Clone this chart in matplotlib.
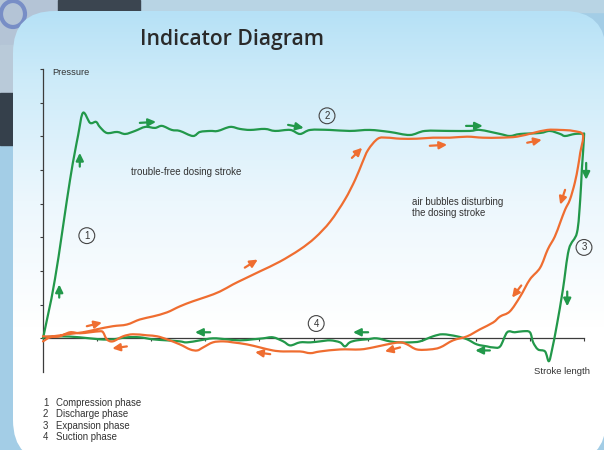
import numpy as np
import matplotlib.pyplot as plt
from matplotlib.patches import FancyBboxPatch, Rectangle, Ellipse, PathPatch
from matplotlib.path import Path
from matplotlib.colors import LinearSegmentedColormap

# stroke position (0..10) and pressure (0..8)
green_x = [0, 0.22, 0.50, 0.65, 0.74, 0.87, 0.98, 1.05, 1.18, 1.37, 1.52, 1.70, 1.89, 2.07, 2.20,
           2.38, 2.53, 2.77, 2.90, 3.09, 3.23, 3.46, 3.64, 3.83, 4.10, 4.29, 4.57, 4.75, 4.94,
           5.30, 5.67, 6.04, 6.41, 6.78, 7.06, 7.52, 7.89, 8.08, 8.45, 8.63, 8.82, 9.19, 9.37,
           9.56, 9.65, 9.83, 9.98,
           10.0, 9.96, 9.93, 9.87, 9.72, 9.61, 9.50, 9.41, 9.35,
           9.28, 9.15, 9.06, 9.00, 8.87, 8.72, 8.58, 8.45, 8.32, 8.21, 8.02, 7.84, 7.65, 7.39,
           7.21, 6.97, 6.78, 6.60, 6.41, 6.17, 5.99, 5.80, 5.67, 5.58, 5.49, 5.31, 5.12, 4.94,
           4.75, 4.57, 4.44, 4.25, 4.07, 3.88, 3.64, 3.40, 3.14, 2.90, 2.66, 2.53, 2.29, 2.03,
           1.79, 1.55, 1.29, 1.05, 0.68, 0.31, 0]
green_y = [0, 1.75, 4.71, 6.04, 6.70, 6.40, 6.43, 6.28, 6.10, 6.13, 6.07, 6.16, 6.28, 6.25, 6.31,
           6.19, 6.16, 6.01, 6.13, 6.16, 6.16, 6.28, 6.22, 6.19, 6.22, 6.16, 6.19, 6.07, 6.19,
           6.19, 6.16, 6.19, 6.13, 6.04, 6.16, 6.16, 6.16, 6.19, 6.07, 6.01, 6.07, 6.10, 6.16,
           6.07, 6.01, 6.07, 6.07,
           5.99, 5.01, 4.12, 3.14, 2.64, 1.45, 0.41, -0.33, -0.68,
           -0.39, -0.33, -0.12, 0.18, 0.21, 0.18, 0.18, -0.24, -0.27, -0.24, -0.18, -0.03, 0.06, 0.12,
           0.06, -0.09, -0.12, -0.12, -0.09, 0.00, -0.03, -0.06, -0.12, -0.24, -0.12, -0.06, -0.09, -0.12,
           -0.12, -0.21, -0.09, 0.03, 0.00, -0.03, -0.06, -0.03, 0.00, -0.06, -0.12, -0.09, -0.06, -0.03,
           0.03, 0.03, -0.03, -0.03, 0.03, 0.06, 0.03]

orange_x = [0, 0.18, 0.44, 0.74, 1.00, 1.29, 1.55, 1.79, 2.03, 2.29, 2.53, 2.77, 3.03, 3.27, 3.51,
            3.70, 4.01, 4.38, 4.75, 5.03, 5.31, 5.58, 5.77, 5.90, 6.01, 6.19, 6.36, 6.60, 6.91,
            7.21, 7.52, 7.84, 8.13, 8.45, 8.76, 9.06, 9.32, 9.56, 9.80, 9.98,
            9.93, 9.89, 9.83, 9.74, 9.65, 9.56, 9.46, 9.33, 9.19, 9.00, 8.82, 8.63, 8.45, 8.32,
            8.08, 7.84, 7.58, 7.34, 7.15, 6.91, 6.73, 6.60, 6.36, 6.10, 5.86, 5.49, 5.12, 4.94,
            4.75, 4.44, 4.25, 4.01, 3.77, 3.51, 3.33, 3.14, 2.96, 2.85, 2.72, 2.53, 2.29, 2.11,
            1.92, 1.66, 1.48, 1.29, 1.18, 1.11, 1.05, 0.87, 0.68, 0.50, 0.31, 0.13, 0]
orange_y = [0.06, 0.06, 0.12, 0.18, 0.27, 0.36, 0.41, 0.56, 0.65, 0.77, 0.95, 1.10, 1.24, 1.39, 1.60,
            1.75, 1.99, 2.28, 2.64, 2.99, 3.47, 4.12, 4.71, 5.21, 5.60, 5.93, 5.96, 5.93, 5.93,
            5.96, 5.96, 5.99, 5.96, 5.96, 5.99, 6.10, 6.19, 6.19, 6.16, 6.04,
            5.51, 5.10, 4.62, 4.12, 3.82, 3.44, 3.02, 2.64, 2.10, 1.75, 1.24, 0.80, 0.65, 0.47,
            0.27, 0.06, -0.06, -0.27, -0.33, -0.33, -0.18, -0.12, -0.18, -0.27, -0.33, -0.33, -0.39, -0.44,
            -0.39, -0.39, -0.36, -0.27, -0.18, -0.12, -0.09, -0.12, -0.27, -0.36, -0.33, -0.18, -0.03, 0.06,
            0.09, 0.12, 0.06, -0.09, -0.03, 0.18, 0.21, 0.18, 0.15, 0.18, 0.06, 0.03, -0.09]

# direction arrows: (tail x, tail y, head x, head y)
green_arrows = [(0.30, 1.21, 0.30, 1.60), (0.68, 5.10, 0.68, 5.51), (1.79, 6.40, 2.09, 6.43),
                (4.53, 6.34, 4.82, 6.25), (7.82, 6.31, 8.13, 6.31), (10.04, 5.21, 10.04, 4.71),
                (9.69, 1.39, 9.69, 0.95), (6.01, 0.18, 5.73, 0.18), (8.26, -0.36, 7.99, -0.36),
                (3.09, 0.18, 2.81, 0.18)]
orange_arrows = [(0.81, 0.36, 1.09, 0.47), (1.55, -0.24, 1.28, -0.30), (3.73, 2.10, 3.97, 2.34),
                 (5.71, 5.36, 5.90, 5.66), (7.15, 5.72, 7.47, 5.75), (8.95, 5.81, 9.22, 5.90),
                 (9.65, 4.41, 9.56, 3.97), (8.84, 1.57, 8.67, 1.21), (6.60, -0.27, 6.32, -0.39),
                 (4.20, -0.47, 3.92, -0.41)]

phase_nums = ['1', '2', '3', '4']
phase_x = [0.81, 5.25, 10.0, 5.05]
phase_y = [3.05, 6.61, 2.70, 0.44]
phase_names = ['Compression phase', 'Discharge phase', 'Expansion phase', 'Suction phase']

GREEN = '#22984a'
ORANGE = '#ef6d30'
INK = '#333333'
FONT = 'Liberation Sans'


def smooth_path(x, y):
    # catmull-rom through the read points, as cubic bezier segments
    p = np.column_stack([x, y])
    verts = [p[0]]
    codes = [Path.MOVETO]
    for i in range(len(p) - 1):
        p0 = p[max(i - 1, 0)]
        p1, p2 = p[i], p[i + 1]
        p3 = p[min(i + 2, len(p) - 1)]
        verts += [p1 + (p2 - p0) / 6, p2 - (p3 - p1) / 6, p2]
        codes += [Path.CURVE4] * 3
    return Path(verts, codes)


fig = plt.figure(figsize=(6.04, 4.5), dpi=100)

# slide background (pixel coords)
bg = fig.add_axes([0, 0, 1, 1])
bg.set_xlim(0, 604)
bg.set_ylim(450, 0)
bg.axis('off')
bg.add_patch(Rectangle((0, 0), 604, 450, color='#a3cde6'))
bg.add_patch(Rectangle((0, 0), 604, 12, color='#b8d4e4'))
bg.add_patch(Rectangle((0, 0), 58, 45, color='#b4c4d6'))
bg.add_patch(Rectangle((58, 0), 82, 11, color='#3b4550'))
bg.add_patch(Rectangle((0, 45), 14, 48, color='#b9cad9'))
bg.add_patch(Rectangle((0, 93), 14, 52, color='#35404b'))
bg.add_patch(Ellipse((13, 14), 24, 26, fill=False, ec='#5f78c0', lw=3, alpha=0.7))

panel = FancyBboxPatch((13, 11), 593, 451, boxstyle='round,pad=0,rounding_size=42',
                       fc='none', ec='none')
bg.add_patch(panel)
cmap = LinearSegmentedColormap.from_list('panel', [(0, '#b6e1f6'), (0.15, '#cdebf9'),
                                                  (0.42, '#ecf7fd'), (0.7, '#ffffff'),
                                                  (1, '#ffffff')])
grad = np.linspace(0, 1, 256).reshape(-1, 1)
img = bg.imshow(grad, extent=(13, 606, 462, 11), aspect='auto', cmap=cmap, zorder=1)
img.set_clip_path(panel)

# chart
ax = fig.add_axes([43 / 604, 78 / 450, 541 / 604, 303 / 450])
ax.patch.set_alpha(0)
ax.set_xlim(0, 10)
ax.set_ylim(-1, 8)
for s in ['top', 'right']:
    ax.spines[s].set_visible(False)
ax.spines['left'].set_position(('data', 0))
ax.spines['bottom'].set_position(('data', 0))
ax.spines['left'].set_bounds(-1, 8)
ax.spines['bottom'].set_bounds(0, 10)
for s in ['left', 'bottom']:
    ax.spines[s].set_color('#3c3c3c')
    ax.spines[s].set_linewidth(0.9)
ax.set_xticks(range(0, 11))
ax.set_yticks(range(0, 9))
ax.tick_params(length=2.5, width=0.8, color='#3c3c3c', labelbottom=False, labelleft=False)

for xs, ys, c, z in [(green_x, green_y, GREEN, 3), (orange_x, orange_y, ORANGE, 4)]:
    ax.add_patch(PathPatch(smooth_path(xs, ys), fc='none', ec=c, lw=1.6,
                           joinstyle='round', capstyle='round', clip_on=False, zorder=z))

for arrows, c in [(green_arrows, GREEN), (orange_arrows, ORANGE)]:
    for x0, y0, x1, y1 in arrows:
        ax.annotate('', xy=(x1, y1), xytext=(x0, y0), annotation_clip=False,
                    arrowprops=dict(arrowstyle='-|>,head_length=0.45,head_width=0.22',
                                    color=c, lw=1.6, shrinkA=0, shrinkB=0), zorder=5)

for n, x, y in zip(phase_nums, phase_x, phase_y):
    ax.text(x, y, n, ha='center', va='center', fontsize=7, family=FONT, color=INK, zorder=6,
            bbox=dict(boxstyle='circle,pad=0.3', fc='none', ec='#444444', lw=0.8))

ax.text(0.17, 7.91, 'Pressure', fontsize=6.7, family=FONT, color=INK, va='center')
ax.text(1.63, 4.95, 'trouble-free dosing stroke', fontsize=7, family=FONT, color=INK, va='center')
ax.text(6.82, 3.88, 'air bubbles disturbing\nthe dosing stroke', fontsize=6.9, family=FONT,
        color=INK, va='center', linespacing=1.15)
ax.text(9.08, -0.98, 'Stroke length', fontsize=6.8, family=FONT, color=INK, va='center')

fig.text(232 / 604, 1 - 40 / 450, 'Indicator Diagram', ha='center', va='center', fontsize=15.2,
         family='Open Sans', fontweight='semibold', color='#2a2a2a')

for i, (n, name) in enumerate(zip(phase_nums, phase_names)):
    yy = 1 - (403 + i * 11.3) / 450
    fig.text(43 / 604, yy, n, fontsize=6.9, family=FONT, color=INK, va='center')
    fig.text(56 / 604, yy, name, fontsize=6.9, family=FONT, color=INK, va='center')

fig.savefig('out.png', dpi=100)
